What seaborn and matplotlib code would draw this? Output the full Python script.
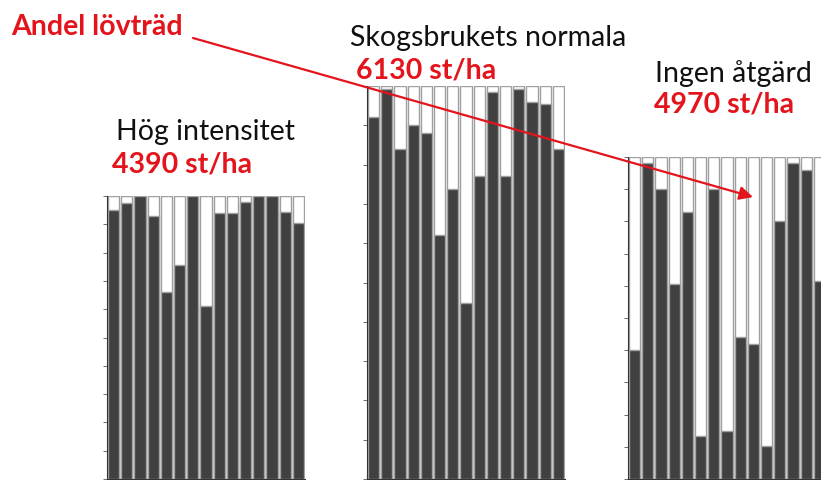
import matplotlib
matplotlib.use("Agg")
import matplotlib.pyplot as plt
import numpy as np
import pandas as pd
import seaborn as sns

# andel barr (mörk del) per provyta, resten = lövträd (vit del)
GROUPS = ["Hög intensitet", "Skogsbrukets normala", "Ingen åtgärd"]
STEMS = [4390, 6130, 4970]
PLOTS = list(range(1, 16))
hog = [0.95, 0.975, 1.0, 0.93, 0.66, 0.755, 1.0, 0.61, 0.94, 0.94, 0.98, 1.0, 1.0, 0.945, 0.905]
normal = [0.92, 0.993, 0.84, 0.90, 0.88, 0.62, 0.737, 0.447, 0.77, 0.986, 0.77, 0.993, 0.96, 0.953, 0.84]
ingen = [0.40, 0.98, 0.90, 0.605, 0.83, 0.133, 0.90, 0.15, 0.44, 0.42, 0.104, 0.80, 0.98, 0.96, 0.615]

DARK = "#404040"
EDGE = "#a0a0a0"
RED = "#e3141c"
FS = 20.5

sns.set_style("white")
plt.rcParams["font.family"] = ["Lato", "DejaVu Sans"]

W, H = 821, 481
fig = plt.figure(figsize=(W / 100, H / 100), dpi=100)

# axes i pixlar: vänster, topp, bredd (botten alltid vid y=480)
boxes = [(107, 197, 198), (367, 87, 198), (628, 158, 198)]

for (x0, top, w), conifer in zip(boxes, [hog, normal, ingen]):
    ax = fig.add_axes([x0 / W, 1 / H, w / W, (H - 1 - top) / H])
    df = pd.DataFrame({"plot": PLOTS, "barr": conifer, "total": [1.0] * len(PLOTS)})
    sns.barplot(data=df, x="plot", y="total", color="white", edgecolor=EDGE,
                linewidth=1.0, width=0.85, saturation=1, ax=ax)
    sns.barplot(data=df, x="plot", y="barr", color=DARK, edgecolor=EDGE,
                linewidth=1.0, width=0.85, saturation=1, ax=ax)
    ax.set_ylim(0, 1)
    ax.set_xlim(-0.5, len(PLOTS) - 0.5)
    ax.set_yticks(np.arange(0, 1.01, 0.1))
    ax.set_xlabel("")
    ax.set_ylabel("")
    ax.tick_params(axis="both", direction="out", length=3, width=0.6,
                   color="#555555", labelleft=False, labelbottom=False,
                   left=True, bottom=True)
    for s in ["top", "right"]:
        ax.spines[s].set_visible(False)
    for s in ["left", "bottom"]:
        ax.spines[s].set_color("#333333")
        ax.spines[s].set_linewidth(0.8)


def px(x, y):
    return x / W, 1 - y / H


# titlar
fig.text(*px(116, 132), GROUPS[0], fontsize=FS, color="#111111", va="center")
fig.text(*px(112, 165), f"{STEMS[0]} st/ha", fontsize=FS, color=RED,
         fontweight="bold", va="center")
fig.text(*px(350, 38), GROUPS[1], fontsize=FS, color="#111111", va="center")
fig.text(*px(356, 70), f"{STEMS[1]} st/ha", fontsize=FS, color=RED,
         fontweight="bold", va="center")
fig.text(*px(655, 74), GROUPS[2], fontsize=FS, color="#111111", va="center")
fig.text(*px(654, 105), f"{STEMS[2]} st/ha", fontsize=FS, color=RED,
         fontweight="bold", va="center")
fig.text(*px(11, 27), "Andel lövträd", fontsize=FS, color=RED,
         fontweight="bold", va="center")

fig.add_artist(matplotlib.patches.FancyArrowPatch(
    (193, H - 39), (753, H - 198), transform=None,
    arrowstyle="-|>,head_length=8,head_width=4", color=RED, linewidth=1.6,
    shrinkA=0, shrinkB=0, zorder=10))

fig.savefig("out.png", dpi=100)
